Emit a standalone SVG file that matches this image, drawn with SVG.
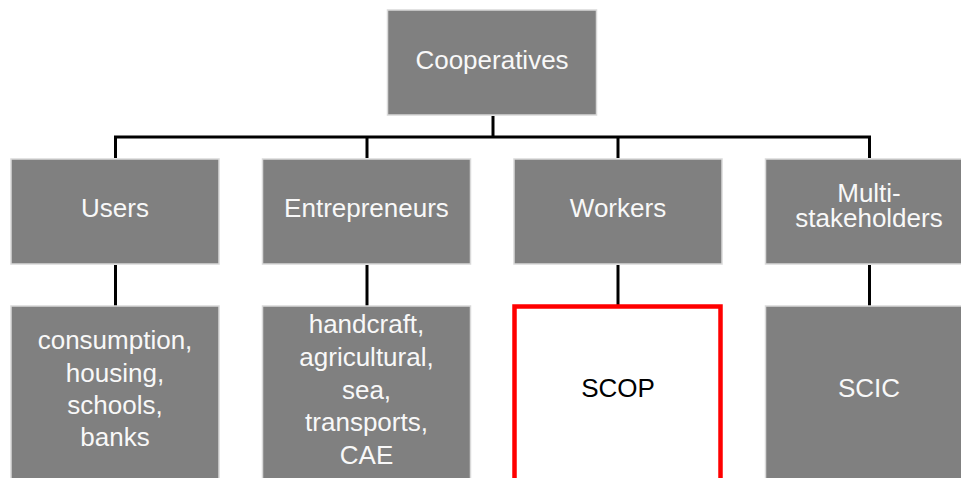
<svg xmlns="http://www.w3.org/2000/svg" width="961" height="478" viewBox="0 0 961 478">
<style>
.box{fill:#808080;stroke:#d9d9d9;stroke-width:1.5}
.t{font-family:"Liberation Sans",Arial,sans-serif;font-size:26px;fill:#f8f8f8;text-anchor:middle}
.c{stroke:#000;stroke-width:3;fill:none}
</style>
<rect width="961" height="478" fill="#fff"/>
<g id="connectors">
<line class="c" x1="493" y1="116" x2="493" y2="137"/>
<line class="c" x1="114" y1="137" x2="871" y2="137"/>
<line class="c" x1="115.5" y1="136" x2="115.5" y2="158"/>
<line class="c" x1="367" y1="136" x2="367" y2="158"/>
<line class="c" x1="618" y1="136" x2="618" y2="158"/>
<line class="c" x1="869.5" y1="136" x2="869.5" y2="158"/>
<line class="c" x1="115.5" y1="265" x2="115.5" y2="306"/>
<line class="c" x1="367" y1="265" x2="367" y2="306"/>
<line class="c" x1="618" y1="265" x2="618" y2="306"/>
<line class="c" x1="869.5" y1="265" x2="869.5" y2="306"/>
</g>
<g id="cooperatives">
<rect class="box" x="387.5" y="10" width="209" height="105"/>
<text class="t" x="492" y="69">Cooperatives</text>
</g>
<g id="users">
<rect class="box" x="11" y="159" width="208" height="105"/>
<text class="t" x="115" y="217">Users</text>
</g>
<g id="entrepreneurs">
<rect class="box" x="262.5" y="159" width="208" height="105"/>
<text class="t" x="366.5" y="217">Entrepreneurs</text>
</g>
<g id="workers">
<rect class="box" x="514" y="159" width="208" height="105"/>
<text class="t" x="618" y="217">Workers</text>
</g>
<g id="multi">
<rect class="box" x="765.5" y="159" width="208" height="105"/>
<text class="t" x="869" y="202">Multi-</text>
<text class="t" x="869" y="227">stakeholders</text>
</g>
<g id="users-list">
<rect class="box" x="11" y="306" width="208" height="190"/>
<text class="t" x="115" y="349">consumption,</text>
<text class="t" x="115" y="382">housing,</text>
<text class="t" x="115" y="414">schools,</text>
<text class="t" x="115" y="446">banks</text>
</g>
<g id="entrepreneurs-list">
<rect class="box" x="262.5" y="306" width="208" height="190"/>
<text class="t" x="366.5" y="333">handcraft,</text>
<text class="t" x="366.5" y="366">agricultural,</text>
<text class="t" x="366.5" y="399">sea,</text>
<text class="t" x="366.5" y="431">transports,</text>
<text class="t" x="366.5" y="464">CAE</text>
</g>
<g id="scop">
<rect x="514.5" y="306.5" width="206" height="190" fill="#fff" stroke="#ff0000" stroke-width="4.5"/>
<text class="t" x="618" y="397" style="fill:#000">SCOP</text>
</g>
<g id="scic">
<rect class="box" x="765.5" y="306" width="208" height="190"/>
<text class="t" x="869" y="397">SCIC</text>
</g>
</svg>
